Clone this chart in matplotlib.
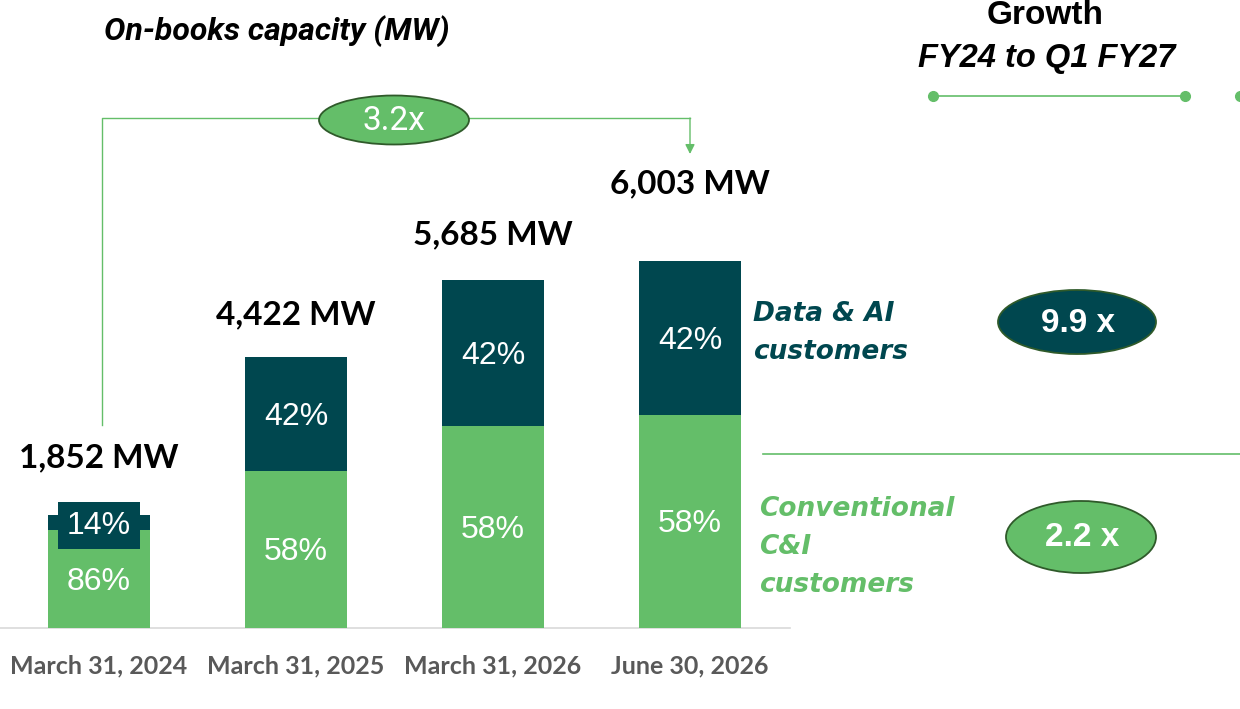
import matplotlib
matplotlib.use("Agg")
import matplotlib.pyplot as plt
from matplotlib.patches import Ellipse

# data
dates = ["March 31, 2024", "March 31, 2025", "March 31, 2026", "June 30, 2026"]
totals = [1852, 4422, 5685, 6003]
share_conv = [86, 58, 58, 58]
share_data = [14, 42, 42, 42]
growth_total = "3.2x"
growth_data = "9.9 x"
growth_conv = "2.2 x"

DARK = "#00474F"
GREEN = "#64BE69"
OUTLINE = "#2F5A2A"

W, H = 1240, 709
fig = plt.figure(figsize=(W / 100, H / 100), dpi=100)
ax = fig.add_axes([0, 0, 1, 1])

# pixel layout of the bars area
x0_px, step_px, base_px = 99, 197, 628
mw_px = 367.5 / 6003
ax.set_xlim(-x0_px / step_px, (W - x0_px) / step_px)
ax.set_ylim(-(H - base_px) / mw_px, base_px / mw_px)
ax.axis("off")


def py(p):
    # pixel row from top -> data y
    return (base_px - p) / mw_px


def px(p):
    return (p - x0_px) / step_px


conv = [t * s / 100 for t, s in zip(totals, share_conv)]
data = [t * s / 100 for t, s in zip(totals, share_data)]
xs = range(len(dates))
bw = 102 / step_px

ax.bar(xs, conv, width=bw, color=GREEN, zorder=2)
ax.bar(xs, data, width=bw, bottom=conv, color=DARK, zorder=2)
ax.plot([px(0), px(790)], [0, 0], color="#D9D9D9", lw=1.2, zorder=1)

for i in xs:
    ax.text(i, conv[i] / 2 - 3 / mw_px, f"{share_conv[i]}%", color="white", fontsize=23,
            ha="center", va="center", family="Liberation Sans", zorder=3)
    box = None
    if share_data[i] < 20:
        box = dict(boxstyle="square,pad=0.27", fc=DARK, ec="none")
    ax.text(i, conv[i] + data[i] / 2 - 3 / mw_px, f"{share_data[i]}%", color="white",
            fontsize=23, ha="center", va="center", family="Liberation Sans", zorder=3,
            bbox=box)
    ax.text(i, py(666), dates[i], color="#595959", fontsize=18,
            fontweight="bold", ha="center", va="center", family="Lato")

label_gap = [57, 42, 45, 77]
for i in xs:
    ax.text(i, totals[i] + label_gap[i] / mw_px, f"{totals[i]:,} MW", fontsize=24,
            fontweight="bold", ha="center", va="center", family="Lato")

# connector from first to last bar
ax.plot([0.015, 0.015, 3], [py(425), py(118), py(118)], color=GREEN, lw=1, zorder=1)
ax.annotate("", xy=(3, py(154)), xytext=(3, py(118)),
            arrowprops=dict(arrowstyle="-|>", color=GREEN, lw=1, mutation_scale=14,
                            shrinkA=0, shrinkB=0))
ax.add_patch(Ellipse((px(394), py(120)), 150 / step_px, 49 / mw_px, fc=GREEN,
                     ec=OUTLINE, lw=1.3, zorder=3))
ax.text(px(394), py(121), growth_total, color="white", fontsize=24, ha="center",
        va="center", family="Roboto", zorder=4)

ax.text(px(104), py(31), "On-books capacity (MW)", fontsize=23, fontweight="bold",
        style="italic", ha="left", va="center", family="Roboto")

# right panel
ax.text(px(1045), py(15), "Growth", fontsize=24, fontweight="bold", ha="center",
        va="center", family="Liberation Sans")
ax.text(px(1047), py(58), "FY24 to Q1 FY27", fontsize=23.5, fontweight="bold",
        style="italic", ha="center", va="center", family="Liberation Sans")
ax.plot([px(933), px(1185)], [py(96), py(96)], color=GREEN, lw=1.2)
ax.plot([px(933), px(1185), px(1240)], [py(96)] * 3, "o", color=GREEN, ms=7,
        clip_on=True)

ax.text(px(753), py(333), "Data & AI\ncustomers", color=DARK, fontsize=19,
        fontweight="bold", style="italic", ha="left", va="center",
        family="DejaVu Sans", linespacing=1.58)
ax.text(px(759), py(547), "Conventional\nC&I\ncustomers", color=GREEN, fontsize=19,
        fontweight="bold", style="italic", ha="left", va="center",
        family="DejaVu Sans", linespacing=1.58)
ax.plot([px(763), px(1240)], [py(454), py(454)], color=GREEN, lw=1.2)

ax.add_patch(Ellipse((px(1077), py(322)), 158 / step_px, 64 / mw_px, fc=DARK,
                     ec=OUTLINE, lw=1.3, zorder=3))
ax.text(px(1078), py(323), growth_data, color="white", fontsize=24, fontweight="bold",
        ha="center", va="center", family="Liberation Sans", zorder=4)
ax.add_patch(Ellipse((px(1081), py(537)), 150 / step_px, 72 / mw_px, fc=GREEN,
                     ec=OUTLINE, lw=1.3, zorder=3))
ax.text(px(1082), py(537), growth_conv, color="white", fontsize=24, fontweight="bold",
        ha="center", va="center", family="Liberation Sans", zorder=4)

fig.savefig("out.png", dpi=100)
